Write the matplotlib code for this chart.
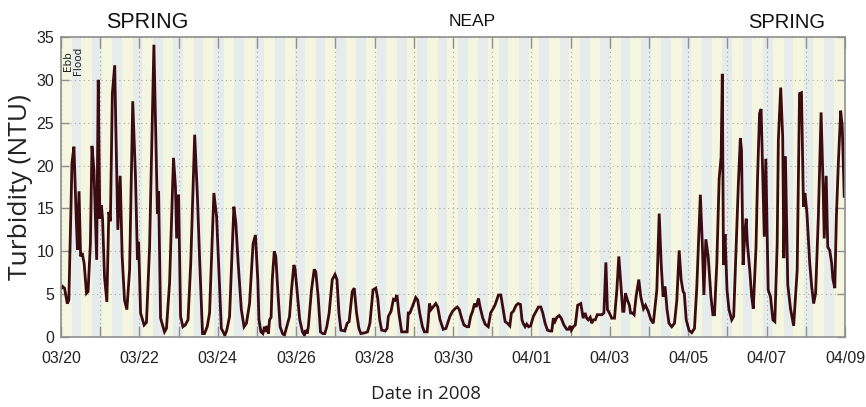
import matplotlib
matplotlib.use("Agg")
import matplotlib.pyplot as plt
import matplotlib.transforms as mtransforms
import numpy as np

# Turbidity record, time in days since 2008-03-20 00:00
elapsed_days = [
    0.01, 0.04, 0.09, 0.16, 0.20, 0.28, 0.33, 0.39, 0.42, 0.46, 0.50, 0.54, 0.59, 0.65, 0.69,
    0.75, 0.79, 0.84, 0.91, 0.95, 0.99, 1.03, 1.06, 1.11, 1.17, 1.22, 1.26, 1.31, 1.37, 1.40,
    1.45, 1.51, 1.56, 1.62, 1.68, 1.75, 1.83, 1.90, 1.95, 1.98, 2.03, 2.12, 2.18, 2.26, 2.37,
    2.46, 2.49, 2.54, 2.64, 2.69, 2.77, 2.87, 2.92, 2.95, 3.00, 3.05, 3.11, 3.17, 3.24, 3.31,
    3.41, 3.48, 3.54, 3.61, 3.66, 3.73, 3.79, 3.90, 3.97, 4.02, 4.09, 4.18, 4.23, 4.30, 4.41,
    4.46, 4.52, 4.60, 4.67, 4.73, 4.81, 4.90, 4.96,
    5.02, 5.05, 5.10, 5.15, 5.19, 5.23, 5.26, 5.29, 5.32, 5.36, 5.39, 5.44, 5.48, 5.53, 5.59,
    5.65, 5.70, 5.76, 5.83, 5.88, 5.94, 5.97, 6.02, 6.09, 6.16, 6.21, 6.24, 6.28, 6.31, 6.39,
    6.46, 6.50, 6.56, 6.62, 6.68, 6.73, 6.78, 6.84, 6.92, 6.99, 7.04, 7.09, 7.14, 7.24, 7.30,
    7.35, 7.43, 7.48, 7.54, 7.60, 7.65, 7.76, 7.82, 7.88, 7.96, 8.03, 8.08, 8.13, 8.18, 8.27,
    8.32, 8.35, 8.42, 8.48, 8.52, 8.57, 8.62, 8.69, 8.75, 8.83, 8.86, 8.90, 8.96, 9.05, 9.10,
    9.15, 9.22, 9.27, 9.34, 9.37, 9.40, 9.44, 9.49, 9.56, 9.61, 9.67, 9.75, 9.82,
    9.92, 9.99, 10.05, 10.11, 10.16, 10.22, 10.28, 10.35, 10.40, 10.45, 10.50, 10.55, 10.59,
    10.65, 10.69, 10.76, 10.82, 10.90, 10.96, 11.01, 11.07, 11.16, 11.22, 11.27, 11.33, 11.39,
    11.45, 11.49, 11.54, 11.61, 11.66, 11.72, 11.76, 11.79, 11.84, 11.88, 11.93, 11.98, 12.05,
    12.12, 12.18, 12.24, 12.29, 12.35, 12.41, 12.47, 12.52, 12.56, 12.60, 12.65, 12.71, 12.76,
    12.83, 12.90, 12.95, 12.99, 13.02, 13.07, 13.12, 13.18, 13.26, 13.32, 13.37, 13.41, 13.45,
    13.50, 13.54, 13.58, 13.63, 13.68, 13.80, 13.85, 13.90, 13.94, 13.99, 14.05, 14.12, 14.18,
    14.23, 14.28, 14.33, 14.36, 14.40, 14.45, 14.50, 14.53, 14.58, 14.62, 14.67, 14.74, 14.79,
    14.86, 14.91,
    14.98, 15.05, 15.11, 15.20, 15.26, 15.31, 15.36, 15.41, 15.46, 15.51, 15.58, 15.65, 15.71,
    15.77, 15.82, 15.87, 15.90, 15.95, 16.02, 16.09, 16.16, 16.22, 16.31, 16.36, 16.40, 16.45,
    16.51, 16.58, 16.63, 16.67, 16.73, 16.79, 16.84, 16.87, 16.90, 16.94, 16.99, 17.04, 17.11,
    17.16, 17.21, 17.28, 17.33, 17.36, 17.40, 17.45, 17.48, 17.51, 17.57, 17.62, 17.66, 17.73,
    17.77, 17.82, 17.86, 17.94, 17.98, 18.04, 18.10, 18.16, 18.21, 18.27, 18.30, 18.36, 18.41,
    18.44, 18.48, 18.54, 18.61, 18.69, 18.78, 18.84, 18.89, 18.94, 18.98, 19.03, 19.10, 19.15,
    19.20, 19.25, 19.32, 19.39, 19.44, 19.47, 19.52, 19.56, 19.61, 19.66, 19.69, 19.74, 19.78,
    19.83, 19.89, 19.93, 19.98,
]

turbidity_ntu = [
    5.7, 5.9, 5.7, 3.9, 4.3, 20.3, 22.2, 13.7, 10.2, 17.0, 9.4, 9.8, 8.6, 5.1, 5.3,
    10.9, 22.3, 19.5, 9.0, 30.0, 13.8, 15.4, 13.8, 7.0, 4.1, 14.6, 13.5, 28.4, 31.7, 24.2,
    12.5, 18.8, 9.4, 4.3, 3.2, 7.8, 27.5, 18.7, 9.0, 11.1, 2.8, 1.4, 1.7, 10.5, 34.1,
    14.4, 17.0, 2.2, 0.6, 1.0, 6.3, 20.9, 17.5, 11.5, 16.6, 2.4, 1.2, 1.4, 2.0, 8.6,
    23.6, 16.4, 8.6, 0.4, 0.4, 1.2, 2.8, 16.8, 14.0, 8.6, 1.0, 0.2, 0.8, 2.4, 15.2,
    13.3, 8.6, 3.2, 1.2, 1.6, 3.9, 10.9, 11.9,
    6.7, 2.0, 0.6, 0.4, 1.2, 0.6, 1.3, 0.4, 2.0, 2.3, 6.7, 10.0, 9.4, 5.5, 1.2,
    0.4, 0.2, 1.2, 2.4, 5.5, 8.4, 8.0, 5.5, 2.0, 0.6, 0.2, 0.8, 0.4, 1.2, 5.5,
    7.9, 7.6, 4.7, 0.6, 0.4, 0.4, 1.2, 2.8, 6.7, 7.3, 6.7, 2.8, 0.8, 0.7, 1.6,
    1.8, 5.3, 5.7, 2.8, 1.0, 0.4, 0.5, 0.6, 1.6, 5.5, 5.7, 4.5, 2.0, 0.8, 0.7,
    1.0, 2.4, 3.0, 4.4, 4.3, 4.9, 2.8, 0.6, 0.6, 0.6, 2.8, 2.8, 3.5, 4.6, 4.3,
    2.8, 1.2, 0.6, 0.6, 2.0, 3.9, 3.2, 3.5, 3.9, 3.5, 2.0, 0.9, 1.0,
    2.4, 3.0, 3.3, 3.5, 3.2, 2.2, 1.4, 1.2, 1.2, 2.4, 3.0, 3.9, 3.5,
    4.5, 3.5, 2.2, 1.5, 1.2, 2.8, 3.2, 3.7, 4.9, 4.9, 3.5, 1.8, 1.6,
    1.3, 2.8, 3.0, 3.7, 3.9, 3.8, 2.0, 1.6, 1.2, 1.5, 1.2, 1.3, 2.4,
    3.0, 3.5, 3.5, 2.8, 1.6, 0.8, 0.7, 0.7, 2.2, 1.8, 2.3, 2.5, 2.2,
    1.4, 0.9, 0.9, 1.3, 0.8, 1.2, 1.4, 3.7, 3.9, 2.2, 2.8, 2.2, 2.0,
    2.3, 1.6, 2.0, 2.0, 2.6, 2.6, 2.8, 8.7, 3.2, 2.8, 2.2, 2.2, 5.5,
    9.4, 6.3, 3.0, 3.0, 5.1, 4.3, 3.7, 2.8, 2.8, 2.6, 4.7, 6.7, 4.7,
    3.3, 3.7,
    3.0, 2.0, 1.6, 5.5, 14.4, 8.6, 4.7, 5.9, 3.2, 1.6, 1.2, 1.6, 4.3,
    10.1, 6.7, 5.3, 5.1, 2.0, 0.8, 0.5, 1.0, 5.9, 16.6, 10.9, 4.9, 11.4,
    9.4, 4.7, 2.6, 2.6, 8.6, 18.5, 21.0, 30.7, 8.4, 12.0, 5.5, 3.2, 2.0,
    2.4, 9.0, 17.9, 23.2, 21.8, 8.4, 12.5, 13.8, 10.9, 7.8, 4.7, 3.3, 10.5,
    18.7, 26.1, 26.6, 11.7, 20.8, 5.5, 4.7, 2.0, 1.8, 10.9, 23.0, 29.1, 23.4,
    9.2, 21.1, 6.1, 3.3, 1.3, 7.8, 28.4, 28.5, 15.2, 16.8, 14.4, 8.6, 5.9,
    3.9, 5.1, 14.0, 26.2, 17.9, 11.5, 18.8, 10.5, 10.1, 8.6, 6.8, 5.7, 14.0,
    20.3, 26.4, 24.5, 16.4,
]

# Tick positions (days) and labels
tick_days = list(range(0, 21))
date_labels = ['03/20', '', '03/22', '', '03/24', '', '03/26', '', '03/28', '', '03/30', '',
               '04/01', '', '04/03', '', '04/05', '', '04/07', '', '04/09']
y_ticks = [0, 5, 10, 15, 20, 25, 30, 35]

# Tidal phase annotations
phase_labels = ['SPRING', 'NEAP', 'SPRING']
phase_days = [2.19, 10.49, 18.5]
phase_sizes = [15.5, 12.5, 14.5]

# Semidiurnal (M2) tide: ebb half-cycles shaded, starting at the beginning of the record
tide_period_days = 12.45 / 24.0
ebb_fraction = 0.53

NARROW = ['Liberation Sans Narrow', 'Liberation Sans', 'DejaVu Sans']
EBB_COLOR = '#f5f6df'
FLOOD_COLOR = '#e6ecec'
LINE_COLOR = '#3a0b10'
AXIS_GREY = '#8f8f8f'

fig = plt.figure(figsize=(8.66, 4.07), dpi=100)
ax = fig.add_axes([61 / 866, 70 / 407, 784 / 866, 300 / 407])

# tide shading
ax.set_facecolor(FLOOD_COLOR)
n_cycles = int(np.ceil(20 / tide_period_days)) + 1
for k in range(n_cycles):
    start = k * tide_period_days
    ax.axvspan(start, start + ebb_fraction * tide_period_days,
               color=EBB_COLOR, lw=0, zorder=0)

ax.plot(elapsed_days, turbidity_ntu, color=LINE_COLOR, lw=2.0, zorder=3,
        solid_joinstyle='miter')

ax.set_xlim(0, 20)
ax.set_ylim(0, 35)
ax.set_xticks(tick_days)
ax.set_xticklabels(date_labels, family=NARROW, fontsize=11.5, color='#222222')
ax.set_yticks(y_ticks)
ax.set_yticklabels([str(v) for v in y_ticks], family=NARROW, fontsize=11.5, color='#222222')

ax.grid(True, which='major', linestyle=(0, (1, 3)), color='#a8a8a8', lw=0.8, zorder=1)
ax.set_axisbelow(False)
for gl in ax.get_xgridlines() + ax.get_ygridlines():
    gl.set_zorder(1)

ax.tick_params(axis='x', direction='in', length=8, width=1, color=AXIS_GREY,
               top=True, bottom=True, pad=10)
ax.tick_params(axis='y', direction='in', length=6, width=1, color=AXIS_GREY,
               left=True, right=True, pad=5)
for sp in ax.spines.values():
    sp.set_color(AXIS_GREY)
    sp.set_linewidth(1.2)
    sp.set_zorder(4)

ax.set_ylabel('Turbidity (NTU)', family=['Open Sans', 'DejaVu Sans'], fontsize=19,
              color='#222222')
ax.yaxis.set_label_coords(-0.036, 0.5)
ax.set_xlabel('Date in 2008', family=['Open Sans', 'DejaVu Sans'], fontsize=13.5,
              color='#222222')
ax.xaxis.set_label_coords(0.466, -0.19)
ax.xaxis.label.set_va('center')

trans = mtransforms.blended_transform_factory(ax.transData, ax.transAxes)
for name, d, fs in zip(phase_labels, phase_days, phase_sizes):
    ax.text(d, 1.05, name, transform=trans, ha='center', va='center',
            family=NARROW, fontsize=fs, color='#111111')

ax.text(0.18, 32.2, 'Ebb', rotation=90, ha='center', va='center', fontsize=7.5,
        color='#222222', zorder=5)
ax.text(0.43, 32.2, 'Flood', rotation=90, ha='center', va='center', fontsize=7.5,
        color='#222222', zorder=5)

fig.savefig('out.png', dpi=100)
